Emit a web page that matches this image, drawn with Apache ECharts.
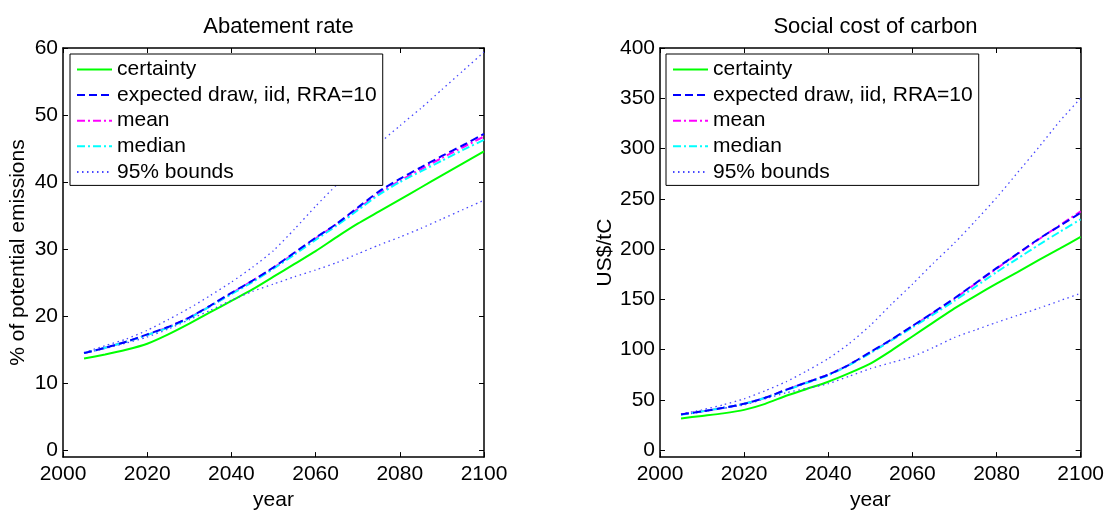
<!DOCTYPE html>
<html>
<head>
<meta charset="utf-8">
<script src="https://cdn.jsdelivr.net/npm/echarts@6/dist/echarts.min.js"></script>
<style>
html, body { margin: 0; padding: 0; background: #fff; }
#main { width: 1107px; height: 516px; }
</style>
</head>
<body>
<div id="main"></div>
<script>
// years on the x axis
var years = [2005, 2010, 2015, 2020, 2025, 2030, 2035, 2040, 2045, 2050,
             2055, 2060, 2065, 2070, 2075, 2080, 2085, 2090, 2095, 2100];

// abatement rate (% of potential emissions)
var abateCertainty = [13.7, 14.3, 15.0, 15.9, 17.3, 18.9, 20.6, 22.3, 24.0, 25.9,
                      27.8, 29.7, 31.8, 33.8, 35.6, 37.4, 39.2, 41.0, 42.8, 44.6];
var abateExpected  = [14.5, 15.3, 16.2, 17.3, 18.4, 19.8, 21.6, 23.5, 25.3, 27.3,
                      29.5, 31.7, 33.8, 36.2, 38.6, 40.5, 42.2, 43.9, 45.5, 47.2];
var abateMean      = [14.5, 15.3, 16.2, 17.2, 18.4, 19.8, 21.5, 23.4, 25.3, 27.2,
                      29.4, 31.6, 33.7, 36.0, 38.3, 40.2, 41.9, 43.6, 45.2, 46.8];
var abateMedian    = [14.5, 15.3, 16.2, 17.2, 18.3, 19.7, 21.5, 23.3, 25.1, 27.1,
                      29.2, 31.4, 33.5, 35.8, 38.1, 40.0, 41.6, 43.2, 44.8, 46.3];
var abateLower     = [14.5, 15.2, 16.0, 16.9, 18.1, 19.5, 20.9, 22.4, 23.7, 24.8,
                      25.9, 26.9, 28.0, 29.3, 30.6, 31.8, 33.1, 34.5, 35.9, 37.3];
var abateUpper     = [14.6, 15.6, 16.6, 17.9, 19.5, 21.2, 23.1, 25.1, 27.3, 29.8,
                      33.0, 36.4, 39.6, 42.7, 45.7, 48.4, 51.0, 53.8, 56.6, 59.4];

// social cost of carbon (US$/tC)
var sccCertainty = [31.5, 34, 36.5, 40, 46, 54, 61, 68, 76.5, 86,
                    99, 113, 127, 141, 153.5, 165.5, 177, 189, 200.5, 212];
var sccExpected  = [35.5, 38.5, 42, 46, 52, 60, 67.5, 75, 85, 97.5,
                    110, 123.5, 137, 151, 166, 181, 195.5, 210, 223, 236];
var sccMean      = [35.5, 38.5, 42, 46, 52, 60, 67.5, 75, 85, 97,
                    109.5, 123, 136.5, 150.5, 165.5, 180.5, 195, 209.5, 223.5, 237.5];
var sccMedian    = [35, 38.5, 42, 46, 52, 59.5, 67, 74.5, 84.5, 96.5,
                    109, 122, 135, 148.5, 162.5, 177, 190.5, 204, 217, 229.5];
var sccLower     = [35, 38, 41.5, 45, 51, 57, 61.5, 66, 73.5, 81,
                    87, 93, 102, 112, 119.5, 127, 134, 141, 148.5, 156];
var sccUpper     = [36, 40, 45, 51, 59, 68, 79, 91, 106, 124,
                    145, 165, 186, 206, 228, 251, 276, 301, 327, 350];

// tick labels
var abateTicks = [0, 10, 20, 30, 40, 50, 60];
var sccTicks = [0, 50, 100, 150, 200, 250, 300, 350, 400];

var legendNames = ['certainty', 'expected draw, iid, RRA=10', 'mean', 'median', '95% bounds'];

var FONT = 'Liberation Sans';

function pairs(vals) {
    return years.map(function (y, i) { return [y, vals[i]]; });
}

function line(name, idx, vals, color, type, width, z) {
    return {
        name: name,
        type: 'line',
        xAxisIndex: idx * 2,
        yAxisIndex: idx * 2,
        data: pairs(vals),
        symbol: 'none',
        smooth: 0.2,
        silent: true,
        z: z,
        lineStyle: { color: color, type: type, width: width },
        itemStyle: { color: color }
    };
}

function xAxes(gridIndex) {
    var base = {
        type: 'value', gridIndex: gridIndex, min: 2000, max: 2100, interval: 20,
        axisLine: { show: true, onZero: false, lineStyle: { color: '#000', width: 1.5 } },
        axisTick: { show: true, inside: true, length: 5, lineStyle: { color: '#000' } },
        splitLine: { show: false }
    };
    var bottom = echarts.util.merge({
        position: 'bottom',
        name: 'year', nameLocation: 'middle', nameGap: 28,
        nameTextStyle: { fontFamily: FONT, fontSize: 21, color: '#000' },
        axisLabel: { fontFamily: FONT, fontSize: 21, color: '#000', margin: 7,
                     formatter: function (v) { return String(v); } }
    }, base, false);
    var top = echarts.util.merge({
        position: 'top', axisLabel: { show: false }
    }, base, false);
    return [bottom, top];
}

function yAxes(gridIndex, min, max, ticks, name, gap) {
    var base = {
        type: 'value', gridIndex: gridIndex, min: min, max: max,
        axisLine: { show: true, onZero: false, lineStyle: { color: '#000', width: 1.5 } },
        axisTick: { show: true, inside: true, length: 5, customValues: ticks, lineStyle: { color: '#000' } },
        splitLine: { show: false }
    };
    var left = echarts.util.merge({
        position: 'left',
        name: name, nameLocation: 'middle', nameGap: gap,
        nameTextStyle: { fontFamily: FONT, fontSize: 21, color: '#000' },
        axisLabel: { fontFamily: FONT, fontSize: 21, color: '#000', margin: 5, customValues: ticks }
    }, base, false);
    var right = echarts.util.merge({
        position: 'right', axisLabel: { show: false }
    }, base, false);
    return [left, right];
}

function legendAt(left) {
    return {
        left: left, top: 54, orient: 'vertical',
        data: legendNames,
        selectedMode: false,
        itemWidth: 35, itemHeight: 14, itemGap: 4.6,
        padding: [5, 6, 3, 6],
        backgroundColor: '#fff',
        borderColor: '#000', borderWidth: 1,
        itemStyle: { opacity: 0 },
        textStyle: { fontFamily: FONT, fontSize: 21, color: '#000', lineHeight: 21 },
        z: 10
    };
}

function seriesFor(idx, c, e, m, md, lo, up) {
    return [
        line('certainty', idx, c, '#00ff00', 'solid', 2, 2),
        line('mean', idx, m, '#ff00ff', [8, 3, 2, 3], 2, 3),
        line('median', idx, md, '#00ffff', [8, 3, 2, 3], 2, 4),
        line('95% bounds', idx, lo, '#4848ff', [1.5, 3.5], 1.3, 2),
        line('95% bounds', idx, up, '#4848ff', [1.5, 3.5], 1.3, 2),
        line('expected draw, iid, RRA=10', idx, e, '#0000ff', [8, 4], 2, 5)
    ];
}

var myChart = echarts.init(document.getElementById('main'), null, { renderer: 'canvas' });

var option = {
    backgroundColor: '#fff',
    animation: false,
    title: [
        { text: 'Abatement rate', left: 273.5, top: 11, textAlign: 'center',
          textStyle: { fontFamily: FONT, fontSize: 22, fontWeight: 'normal', color: '#000' } },
        { text: 'Social cost of carbon', left: 870.5, top: 11, textAlign: 'center',
          textStyle: { fontFamily: FONT, fontSize: 22, fontWeight: 'normal', color: '#000' } }
    ],
    grid: [
        { left: 63, top: 48, width: 421, height: 420 },
        { left: 660, top: 48, width: 421, height: 420 }
    ],
    legend: [legendAt(70), legendAt(666)],
    xAxis: xAxes(0).concat(xAxes(1)),
    yAxis: yAxes(0, -1, 60, abateTicks, '% of potential emissions', 34)
        .concat(yAxes(1, -7, 400, sccTicks, 'US$/tC', 44)),
    series: seriesFor(0, abateCertainty, abateExpected, abateMean, abateMedian, abateLower, abateUpper)
        .concat(seriesFor(1, sccCertainty, sccExpected, sccMean, sccMedian, sccLower, sccUpper))
};

myChart.setOption(option);
</script>
</body>
</html>
